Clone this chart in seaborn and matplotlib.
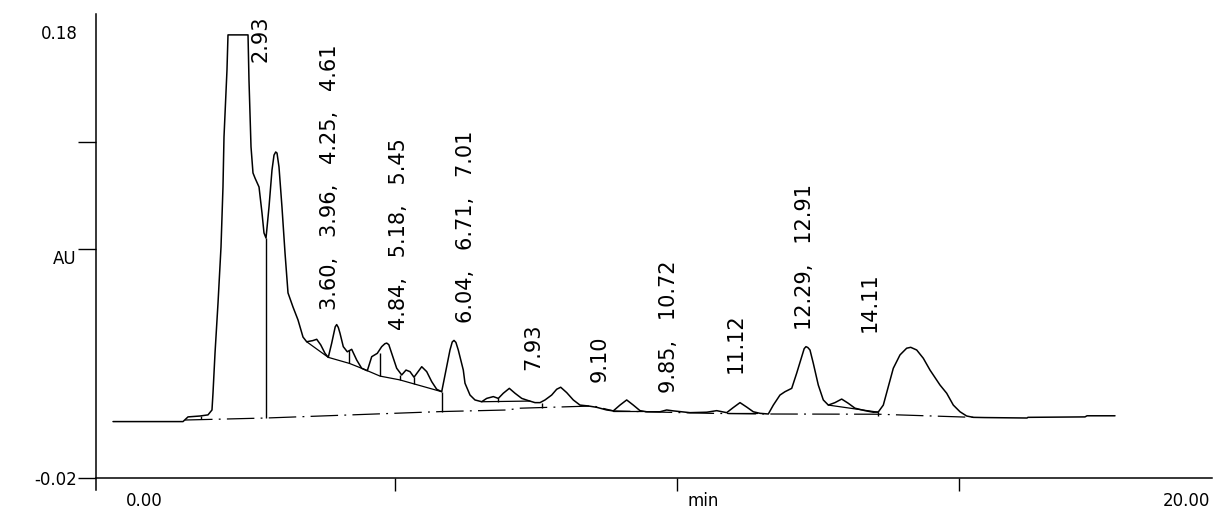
import matplotlib
matplotlib.use("Agg")
import matplotlib.pyplot as plt
import matplotlib.transforms as mtransforms
import pandas as pd
import seaborn as sns

# ---------------- data ----------------
time_min = [0.000, 0.656, 1.241, 1.330, 1.543, 1.684, 1.755, 1.773, 1.809, 1.862,
            1.915, 1.950, 1.968, 2.021, 2.039, 2.394, 2.411, 2.447, 2.482, 2.518,
            2.589, 2.642, 2.677, 2.713, 2.766, 2.819, 2.855, 2.885, 2.908, 2.943, 2.996,
            3.050, 3.103, 3.191, 3.280, 3.369, 3.434, 3.541, 3.612, 3.683, 3.759,
            3.817, 3.877, 3.940, 3.966, 3.995, 4.025, 4.083, 4.154, 4.232, 4.321, 4.409, 4.509,
            4.587, 4.686, 4.764, 4.820, 4.853, 4.890, 4.941, 5.030, 5.119, 5.195, 5.266, 5.337,
            5.474, 5.562, 5.651, 5.739, 5.828, 5.917, 5.975, 6.015, 6.046, 6.080, 6.122, 6.211,
            6.241, 6.330, 6.418, 6.537, 6.626, 6.743, 6.832, 6.920, 7.027, 7.128,
            7.247, 7.364, 7.482, 7.571, 7.660, 7.778, 7.867, 7.938, 8.044, 8.161,
            8.280, 8.427, 8.576, 8.754, 8.871, 8.989, 9.108, 9.225, 9.344, 9.463,
            9.699, 9.817, 9.934, 10.230, 10.527, 10.704, 10.881, 10.993, 11.117, 11.236,
            11.353, 11.472, 11.619, 11.708, 11.826, 11.915, 12.034, 12.122, 12.211, 12.255, 12.287,
            12.320, 12.358, 12.417, 12.505, 12.594, 12.683, 12.801, 12.920, 13.037, 13.156, 13.333,
            13.480, 13.569, 13.658, 13.746, 13.835, 13.954, 14.072, 14.144, 14.250, 14.367,
            14.486, 14.663, 14.782, 14.899, 15.018, 15.136, 15.254, 15.461, 16.206, 16.223,
            17.234, 17.270, 17.766]
absorbance = [0.0053, 0.0053, 0.0053, 0.0074, 0.0078, 0.0083, 0.0105, 0.0181, 0.0361, 0.0585,
              0.0836, 0.1105, 0.1329, 0.1630, 0.1787, 0.1787, 0.1585, 0.1285, 0.1168, 0.1145,
              0.1105, 0.0988, 0.0899, 0.0876, 0.1015, 0.1181, 0.1248, 0.1262, 0.1257, 0.1195, 0.1015,
              0.0809, 0.0630, 0.0567, 0.0509, 0.0432, 0.0411, 0.0416, 0.0422, 0.0397, 0.0359,
              0.0341, 0.0404, 0.0478, 0.0488, 0.0475, 0.0449, 0.0389, 0.0366, 0.0377, 0.0329, 0.0292, 0.0281,
              0.0344, 0.0359, 0.0389, 0.0402, 0.0405, 0.0398, 0.0359, 0.0292, 0.0262, 0.0284, 0.0277, 0.0252,
              0.0299, 0.0277, 0.0232, 0.0198, 0.0187, 0.0299, 0.0374, 0.0410, 0.0417, 0.0408, 0.0374, 0.0284,
              0.0225, 0.0172, 0.0150, 0.0142, 0.0157, 0.0165, 0.0157, 0.0180, 0.0202, 0.0180,
              0.0157, 0.0147, 0.0138, 0.0138, 0.0150, 0.0172, 0.0198, 0.0207, 0.0183, 0.0150,
              0.0127, 0.0123, 0.0117, 0.0105, 0.0101, 0.0127, 0.0150, 0.0127, 0.0102, 0.0097,
              0.0097, 0.0105, 0.0101, 0.0093, 0.0095, 0.0102, 0.0093, 0.0115, 0.0138, 0.0118,
              0.0097, 0.0090, 0.0087, 0.0127, 0.0172, 0.0187, 0.0202, 0.0270, 0.0344, 0.0380, 0.0389,
              0.0385, 0.0374, 0.0314, 0.0217, 0.0150, 0.0127, 0.0138, 0.0154, 0.0135, 0.0113, 0.0102,
              0.0095, 0.0096, 0.0127, 0.0209, 0.0292, 0.0352, 0.0382, 0.0386, 0.0374, 0.0337,
              0.0284, 0.0217, 0.0180, 0.0127, 0.0097, 0.0078, 0.0072, 0.0071, 0.0069, 0.0072,
              0.0074, 0.0079, 0.0079]

# integration baseline (dash-dot)
baseline_time = [1.277, 2.713, 5.833, 6.986, 7.220, 8.515, 8.871, 9.463, 10.600, 11.619, 13.569, 15.254]
baseline_au = [0.0060, 0.0069, 0.0098, 0.0105, 0.0113, 0.0123, 0.0101, 0.0097, 0.0090, 0.0087, 0.0086, 0.0072]

# tangent skim lines (solid)
skim_group_time = [3.434, 3.817, 4.190, 4.409, 4.734, 5.085, 5.337, 5.828]
skim_group_au = [0.0411, 0.0341, 0.0314, 0.0292, 0.0257, 0.0240, 0.0222, 0.0187]
skim_701_time = [6.537, 7.393]
skim_701_au = [0.0142, 0.0145]
skim_910_time = [8.871, 9.403]
skim_910_au = [0.0101, 0.0101]
skim_1112_time = [10.881, 11.413]
skim_1112_au = [0.0093, 0.0093]
skim_1291_time = [12.683, 13.569]
skim_1291_au = [0.0127, 0.0095]

# peak drop lines
drop_time = [1.560, 2.713, 4.190, 4.734, 5.085, 5.337, 5.828, 6.832, 7.600, 13.569]
drop_top = [0.0078, 0.0876, 0.0374, 0.0359, 0.0262, 0.0252, 0.0187, 0.0157, 0.0137, 0.0095]
drop_bottom = [0.0063, 0.0069, 0.0314, 0.0257, 0.0240, 0.0222, 0.0098, 0.0142, 0.0114, 0.0078]

# retention-time labels
peak_label_text = ["2.93", "3.60,   3.96,   4.25,   4.61", "4.84,   5.18,   5.45",
                   "6.04,   6.71,   7.01", "7.93", "9.10", "9.85,   10.72", "11.12",
                   "12.29,   12.91", "14.11"]
peak_label_time = [2.624, 3.848, 5.071, 6.259, 7.447, 8.635, 9.858, 11.046, 12.270, 13.422]
peak_label_au = [0.1665, 0.0553, 0.0464, 0.0495, 0.0284, 0.0230, 0.0181, 0.0271, 0.0464, 0.0455]

y_tick_values = [-0.02, 0.0827, 0.1307, 0.18]
y_tick_labels = ["-0.02", "", "", "0.18"]
x_tick_values = [5, 10, 15]
x_end_labels = ["0.00", "min", "20.00"]
x_end_label_time = [0.55, 10.46, 19.03]

# ---------------- drawing ----------------
sns.set_style("white")
plt.rcParams["font.family"] = ["DejaVu Sans"]
plt.rcParams["text.color"] = "black"

fig = plt.figure(figsize=(12.3, 5.15), dpi=100)
ax = fig.add_axes([0.07805, 0.07184, 0.90732, 0.90098])

trace = pd.DataFrame({"time": time_min, "AU": absorbance})
sns.lineplot(data=trace, x="time", y="AU", sort=False, estimator=None,
             color="black", linewidth=1.1, ax=ax)

sns.lineplot(x=baseline_time, y=baseline_au, sort=False, estimator=None,
             color="black", linewidth=0.9, linestyle=(0, (22, 5, 1.5, 5)), ax=ax)
for st, sv in [(skim_group_time, skim_group_au), (skim_701_time, skim_701_au),
               (skim_910_time, skim_910_au), (skim_1112_time, skim_1112_au),
               (skim_1291_time, skim_1291_au)]:
    sns.lineplot(x=st, y=sv, sort=False, estimator=None, color="black",
                 linewidth=0.9, ax=ax)
ax.vlines(drop_time, drop_bottom, drop_top, colors="black", linewidth=1.0)

for txt, t, v in zip(peak_label_text, peak_label_time, peak_label_au):
    ax.text(t, v, txt, rotation=90, ha="center", va="bottom",
            fontsize=15, color="black")

ax.set_xlim(-0.3014, 19.486)
ax.set_ylim(-0.02, 0.18807)

ax.set_yticks(y_tick_values)
ax.set_yticklabels(y_tick_labels)
ax.set_xticks(x_tick_values)
ax.set_xticklabels([""] * len(x_tick_values))
ax.tick_params(axis="y", direction="out", length=13, width=1.0, pad=0.5,
               labelsize=12, colors="black", left=True)
ax.tick_params(axis="x", direction="out", length=9.5, width=1.0,
               colors="black", bottom=True)
for tick in ax.yaxis.get_major_ticks():
    if abs(tick.get_loc() - 0.18) < 1e-6:
        tick.tick1line.set_visible(False)

ax.set_xlabel("")
ax.set_ylabel("")

for side in ["top", "right"]:
    ax.spines[side].set_visible(False)
for side in ["left", "bottom"]:
    ax.spines[side].set_color("black")
    ax.spines[side].set_linewidth(1.1)
ax.spines["left"].set_bounds(-0.0254, 0.18807)

# axis captions
ytrans = mtransforms.blended_transform_factory(ax.transAxes, ax.transData)
ax.text(-0.0175, 0.0782, "AU", transform=ytrans, ha="right", va="center",
        fontsize=12, color="black")
for txt, t in zip(x_end_labels, x_end_label_time):
    ax.text(t, -0.0303, txt, ha="center", va="center", fontsize=12,
            color="black", clip_on=False)

fig.savefig("out.png", dpi=100)
